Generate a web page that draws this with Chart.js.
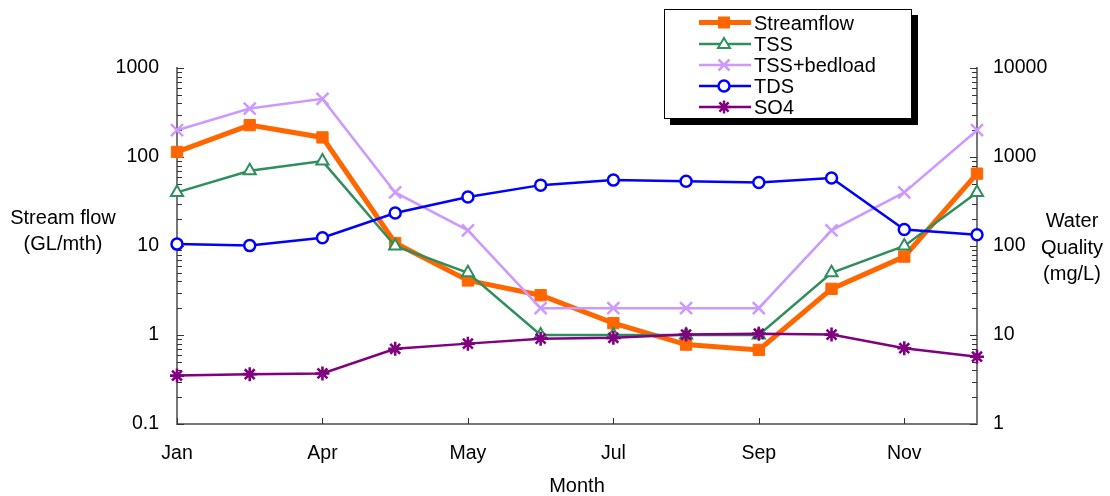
<!DOCTYPE html>
<html>
<head>
<meta charset="utf-8">
<script src="https://cdn.jsdelivr.net/npm/chart.js@4.4.1/dist/chart.umd.min.js"></script>
<style>
  html, body { margin: 0; padding: 0; background: #fff; }
  #wrap { position: relative; width: 1110px; height: 496px; font-family: 'Liberation Sans', Arial, sans-serif; color: #000; overflow: hidden; }
  #chart { position: absolute; left: 0; top: 0; }
  .ttl { position: absolute; font-size: 20px; line-height: 26px; text-align: center; white-space: nowrap; }
  #legend { position: absolute; left: 664px; top: 9px; width: 246px; height: 108px; border: 1px solid #000; background: #fff; box-shadow: 6px 6px 0 #000; }
  #legend svg { position: absolute; left: 0; top: 0; }
  .lg { position: absolute; left: 89px; font-size: 20px; line-height: 22px; white-space: nowrap; }
</style>
</head>
<body>
<div id="wrap">
  <canvas id="chart" width="1110" height="496"></canvas>
  <div class="ttl" style="left:0;width:126px;top:204px;">Stream flow<br>(GL/mth)</div>
  <div class="ttl" style="left:1022px;width:100px;top:207px;line-height:26.5px;">Water<br>Quality<br>(mg/L)</div>
  <div class="ttl" style="left:527px;width:100px;top:472px;">Month</div>
  <div id="legend">
    <svg width="246" height="108" viewBox="0 0 246 108">
      <!-- Streamflow -->
      <line x1="34" y1="12.5" x2="86" y2="12.5" stroke="#ff6600" stroke-width="5"/>
      <rect x="53" y="6.5" width="12" height="12" fill="#ff6600"/>
      <!-- TSS -->
      <line x1="34" y1="34" x2="86" y2="34" stroke="#2e8f5c" stroke-width="2.5"/>
      <polygon points="59,28 65,38 53,38" fill="#fff" stroke="#2e8f5c" stroke-width="2"/>
      <!-- TSS+bedload -->
      <line x1="34" y1="55" x2="86" y2="55" stroke="#cc99ff" stroke-width="2.5"/>
      <path d="M53.5 49.5 L64.5 60.5 M64.5 49.5 L53.5 60.5" stroke="#cc99ff" stroke-width="2.5"/>
      <!-- TDS -->
      <line x1="34" y1="76" x2="86" y2="76" stroke="#0000ff" stroke-width="2.5"/>
      <circle cx="59" cy="76" r="5.5" fill="#fff" stroke="#0000ff" stroke-width="2.5"/>
      <!-- SO4 -->
      <line x1="34" y1="97" x2="86" y2="97" stroke="#800080" stroke-width="2.5"/>
      <path d="M59 90.5 L59 103.5 M52.5 97 L65.5 97 M54.4 92.4 L63.6 101.6 M63.6 92.4 L54.4 101.6" stroke="#800080" stroke-width="2.5"/>
    </svg>
    <div class="lg" style="top:1.5px;">Streamflow</div>
    <div class="lg" style="top:23px;">TSS</div>
    <div class="lg" style="top:44px;">TSS+bedload</div>
    <div class="lg" style="top:65px;">TDS</div>
    <div class="lg" style="top:86px;">SO4</div>
  </div>
</div>
<script>
// Month tick labels (every second month is labelled)
const tickLabels = ['Jan', '', 'Apr', '', 'May', '', 'Jul', '', 'Sep', '', 'Nov', ''];

// Stream flow, GL/month (left axis)
const streamflow = [114, 228, 166, 10.8, 4.1, 2.8, 1.36, 0.78, 0.68, 3.3, 7.6, 65];

// Water quality, mg/L (right axis)
const tss        = [400, 700, 900, 100, 50, 10, 10, 10, 10, 50, 100, 400];
const tssBedload = [2000, 3500, 4500, 400, 150, 20, 20, 20, 20, 150, 400, 2000];
const tds        = [105, 101, 124, 235, 356, 483, 550, 535, 517, 580, 153, 134];
const so4        = [3.5, 3.63, 3.7, 7.0, 8.0, 9.1, 9.3, 10.1, 10.35, 10.1, 7.1, 5.7];

const FONT = "'Liberation Sans', Arial, sans-serif";

function isDecade(v) {
  const l = Math.log10(v);
  return Math.abs(l - Math.round(l)) < 1e-9;
}

// Short tick marks drawn on the inner side of each axis
const innerTicks = {
  id: 'innerTicks',
  beforeDatasetsDraw(chart) {
    const ctx = chart.ctx, a = chart.chartArea;
    ctx.save();
    ctx.strokeStyle = '#333';
    ctx.lineWidth = 1;
    ['y', 'y1'].forEach(id => {
      const s = chart.scales[id];
      const lo = Math.floor(Math.log10(s.min)), hi = Math.ceil(Math.log10(s.max));
      for (let e = lo; e <= hi; e++) {
        for (let k = 1; k <= 9; k++) {
          const v = k * Math.pow(10, e);
          if (v < s.min * 0.999 || v > s.max * 1.001) continue;
          const y = Math.round(s.getPixelForValue(v)) + 0.5;
          const len = k === 1 ? 7 : 5;
          ctx.beginPath();
          if (s.position === 'left') { ctx.moveTo(a.left, y); ctx.lineTo(a.left + len, y); }
          else { ctx.moveTo(a.right, y); ctx.lineTo(a.right - len, y); }
          ctx.stroke();
        }
      }
    });
    const x = chart.scales.x;
    tickLabels.forEach((t, i) => {
      if (!t) return;
      const px = Math.round(x.getPixelForValue(i)) + 0.5;
      ctx.beginPath();
      ctx.moveTo(px, a.bottom);
      ctx.lineTo(px, a.bottom - 6);
      ctx.stroke();
    });
    ctx.restore();
  }
};

function logAxis(position, min, max, width, pad) {
  return {
    type: 'logarithmic',
    position,
    min, max,
    afterFit(scale) { scale.width = width; },
    afterBuildTicks(scale) { scale.ticks = scale.ticks.filter(t => isDecade(t.value)); },
    grid: { display: true, drawOnChartArea: false, drawTicks: false },
    border: { display: true, color: '#777', width: 2 },
    ticks: {
      autoSkip: false,
      padding: pad,
      color: '#000',
      font: { family: FONT, size: 19.5 },
      callback: v => String(v)
    }
  };
}

new Chart(document.getElementById('chart'), {
  type: 'line',
  data: {
    labels: tickLabels,
    datasets: [
      {
        label: 'Streamflow', data: streamflow, yAxisID: 'y', order: 5,
        borderColor: '#ff6600', backgroundColor: '#ff6600', borderWidth: 5,
        pointStyle: 'rect', pointRadius: 8, pointBorderWidth: 1,
        pointBackgroundColor: '#ff6600', pointBorderColor: '#ff6600', clip: false
      },
      {
        label: 'TSS', data: tss, yAxisID: 'y1', order: 4,
        borderColor: '#2e8f5c', borderWidth: 2.5,
        pointStyle: 'triangle', pointRadius: 7, pointBorderWidth: 2,
        pointBackgroundColor: '#fff', pointBorderColor: '#2e8f5c', clip: false
      },
      {
        label: 'TSS+bedload', data: tssBedload, yAxisID: 'y1', order: 3,
        borderColor: '#cc99ff', borderWidth: 2.5,
        pointStyle: 'crossRot', pointRadius: 8.5, pointBorderWidth: 2.5,
        pointBorderColor: '#cc99ff', clip: false
      },
      {
        label: 'TDS', data: tds, yAxisID: 'y1', order: 2,
        borderColor: '#0000ff', borderWidth: 2.5,
        pointStyle: 'circle', pointRadius: 5.5, pointBorderWidth: 2.5,
        pointBackgroundColor: '#fff', pointBorderColor: '#0000ff', clip: false
      },
      {
        label: 'SO4', data: so4, yAxisID: 'y1', order: 1,
        borderColor: '#800080', borderWidth: 2.5,
        pointStyle: 'star', pointRadius: 7, pointBorderWidth: 2.6,
        pointBorderColor: '#800080', clip: false
      }
    ]
  },
  options: {
    responsive: false,
    animation: false,
    devicePixelRatio: 1,
    layout: { padding: { top: 68, left: 0, right: 0, bottom: 0 } },
    plugins: { legend: { display: false }, tooltip: { enabled: false } },
    elements: { line: { tension: 0 } },
    scales: {
      x: {
        type: 'category',
        offset: false,
        afterFit(scale) { scale.height = 72; },
        grid: { display: true, drawOnChartArea: false, drawTicks: false },
        border: { display: true, color: '#777', width: 2 },
        ticks: {
          autoSkip: false, maxRotation: 0, padding: 18,
          color: '#000', font: { family: FONT, size: 19.5 }
        }
      },
      y: logAxis('left', 0.1, 1000, 177, 18),
      y1: logAxis('right', 1, 10000, 133, 16)
    }
  },
  plugins: [innerTicks]
});
</script>
</body>
</html>
